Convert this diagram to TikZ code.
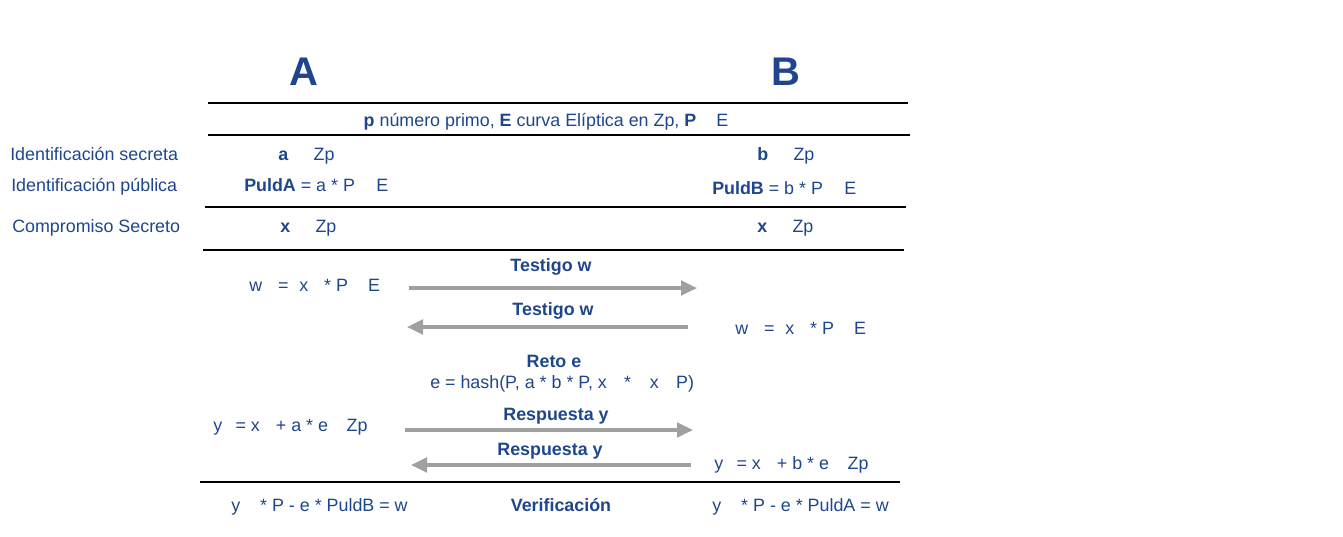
\documentclass[tikz,border=0pt]{standalone}
\usepackage{fontspec}
\setmainfont{Liberation Sans}
\usetikzlibrary{arrows.meta}
\definecolor{myblue}{RGB}{31,70,140}
\definecolor{arrgray}{RGB}{160,160,160}
\begin{document}
\begin{tikzpicture}[x=0.75pt,y=-0.75pt,
  txt/.style={font=\fontsize{13.4}{15}\selectfont, text=myblue, inner sep=0pt, text height=9.6pt, text depth=0pt},
  bld/.style={txt, font=\fontsize{13.4}{15}\bfseries\selectfont},
  lft/.style={txt, anchor=west},
  big/.style={font=\fontsize{30}{34}\bfseries\selectfont, text=myblue, inner sep=0pt},
  rule/.style={line width=1.5pt, black},
  arr/.style={draw=arrgray, line width=2.4pt, -{Triangle[length=12pt,width=11pt]}}]
\useasboundingbox (0,0) rectangle (1343,536);
% headers
\node[big] (A) at (304,72) {A};
\node[big] (B) at (786,72) {B};
% rules
\draw[rule] (208,103) -- (908,103);
\draw[rule] (208,135) -- (910,135);
\draw[rule] (205,207) -- (906,207);
\draw[rule] (203,250) -- (904,250);
\draw[rule] (200,482) -- (900,482);
% common
\node[txt] (common) at (546,120) {\textbf{p} número primo, \textbf{E} curva Elíptica en Zp, \textbf{P}\hspace{15pt}E};
% left labels
\node[lft] (ls) at (10,154) {Identificación secreta};
\node[lft] (lp) at (11,185) {Identificación pública};
\node[lft] (lc) at (12,226) {Compromiso Secreto};
% secrets
\node[lft] (asec) at (278,154) {\textbf{a}\hspace{19pt}Zp};
\node[lft] (bsec) at (757,154) {\textbf{b}\hspace{19pt}Zp};
\node[lft] (apub) at (244,185) {\textbf{PuldA} = a * P\hspace{16pt}E};
\node[lft] (bpub) at (712,188) {\textbf{PuldB} = b * P\hspace{16pt}E};
\node[lft] (acom) at (280,226) {\textbf{x}\hspace{19pt}Zp};
\node[lft] (bcom) at (757,226) {\textbf{x}\hspace{19pt}Zp};
% witness
\node[lft] (aw) at (249,285) {w\hspace{12pt}=\hspace{8pt}x\hspace{12pt}* P\hspace{15pt}E};
\node[lft] (bw) at (735,328) {w\hspace{12pt}=\hspace{8pt}x\hspace{12pt}* P\hspace{15pt}E};
\node[bld] (tw1) at (551,265) {Testigo w};
\node[bld] (tw2) at (553,309) {Testigo w};
\coordinate (a1s) at (409,288); \coordinate (a1e) at (697,288);
\coordinate (a2s) at (688,327); \coordinate (a2e) at (407,327);
\draw[arr] (a1s) -- (a1e);
\draw[arr] (a2s) -- (a2e);
% challenge
\node[bld] (reto) at (554,361) {Reto e};
\node[lft] (hash) at (430,382) {e = hash(P, a * b * P, x\hspace{13pt}*\hspace{14pt}x\hspace{13pt}P)};
% response
\node[lft] (ay) at (213,425) {y\hspace{10pt}= x\hspace{12pt}+ a * e\hspace{14pt}Zp};
\node[lft] (by) at (714,463) {y\hspace{10pt}= x\hspace{12pt}+ b * e\hspace{14pt}Zp};
\node[bld] (r1) at (556,414) {Respuesta y};
\node[bld] (r2) at (550,449) {Respuesta y};
\coordinate (a3s) at (405,430); \coordinate (a3e) at (693,430);
\coordinate (a4s) at (691,465); \coordinate (a4e) at (411,465);
\draw[arr] (a3s) -- (a3e);
\draw[arr] (a4s) -- (a4e);
% verification
\node[lft] (av) at (231,505) {y\hspace{15pt}* P - e * PuldB = w};
\node[bld] (ver) at (561,505) {Verificación};
\node[lft] (bv) at (712,505) {y\hspace{15pt}* P - e * PuldA = w};
\end{tikzpicture}
\end{document}
